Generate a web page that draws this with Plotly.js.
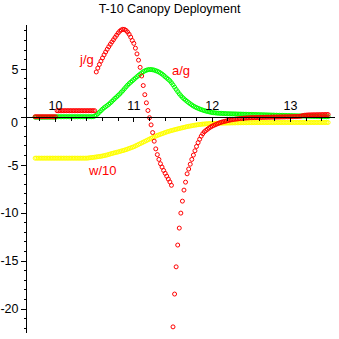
<!DOCTYPE html>
<html>
<head>
<meta charset="utf-8">
<script src="https://cdn.plot.ly/plotly-3.0.1.min.js"></script>
<style>html,body{margin:0;padding:0;background:#fff;}#chart{width:339px;height:339px;}</style>
</head>
<body>
<div id="chart"></div>
<script>
// time samples (s)
var t = [
9.74,9.76,9.78,9.8,9.82,9.84,9.86,9.88,9.9,9.92,9.94,9.96,9.98,
10,10.02,10.04,10.06,10.08,10.1,10.12,10.14,10.16,10.18,10.2,10.22,10.24,10.26,10.28,10.3,10.32,10.34,10.36,10.38,10.4,10.42,10.44,10.46,10.48,10.5,10.52,10.54,10.56,10.58,10.6,10.62,10.64,10.66,10.68,10.7,10.72,10.74,10.76,10.78,10.8,10.82,10.84,10.86,10.88,10.9,10.92,10.94,10.96,10.98,
11,11.02,11.04,11.06,11.08,11.1,11.12,11.14,11.16,11.18,11.2,11.22,11.24,11.26,11.28,11.3,11.32,11.34,11.36,11.38,11.4,11.42,11.44,11.46,11.48,11.5,11.52,11.54,11.56,11.58,11.6,11.62,11.64,11.66,11.68,11.7,11.72,11.74,11.76,11.78,11.8,11.82,11.84,11.86,11.88,11.9,11.92,11.94,11.96,11.98,
12,12.02,12.04,12.06,12.08,12.1,12.12,12.14,12.16,12.18,12.2,12.22,12.24,12.26,12.28,12.3,12.32,12.34,12.36,12.38,12.4,12.42,12.44,12.46,12.48,12.5,12.52,12.54,12.56,12.58,12.6,12.62,12.64,12.66,12.68,12.7,12.72,12.74,12.76,12.78,12.8,12.82,12.84,12.86,12.88,12.9,12.92,12.94,12.96,12.98,
13,13.02,13.04,13.06,13.08,13.1,13.12,13.14,13.16,13.18,13.2,13.22,13.24,13.26,13.28,13.3,13.32,13.34,13.36,13.38,13.4,13.42,13.44,13.46,13.48
];

// jerk / g
var jg = [
0.05,0.05,0.05,0.05,0.05,0.05,0.05,0.05,0.05,0.05,0.05,0.05,0.05,
0.05,
0.68,0.68,0.68,0.68,0.68,0.68,0.68,0.68,0.68,0.68,
0.68,0.68,0.68,0.68,0.68,0.68,0.68,0.68,0.68,0.68,
0.68,0.68,0.68,0.68,0.68,
4.72,5.12,5.5,5.85,6.18,6.5,6.8,7.08,7.35,7.6,7.85,8.08,8.32,8.55,8.78,8.97,9.1,9.17,9.15,9.05,8.88,8.65,8.35,8.0,
7.7,7.2,6.6,5.95,5.2,4.3,3.3,2.35,1.5,0.7,
-0.05,-0.8,-1.6,-2.5,-3.3,-3.9,-4.4,-4.85,-5.2,-5.55,
-5.85,-6.15,-6.45,-6.75,-7.1,-21.86,-18.44,-15.6,-13.33,-11.56,
-10.0,-8.75,-7.6,-6.77,-5.9,-5.4,-4.9,-4.4,-3.95,-3.5,
-3.05,-2.65,-2.3,-1.98,-1.72,-1.52,-1.38,-1.25,-1.13,-1.02,
-0.93,-0.85,-0.78,-0.71,-0.64,-0.57,-0.52,-0.47,-0.43,-0.39,
-0.35,-0.31,-0.28,-0.25,-0.22,-0.2,-0.18,-0.16,-0.14,-0.12,
-0.1,-0.09,-0.08,-0.07,-0.06,-0.05,-0.05,-0.04,-0.04,-0.03,
-0.03,-0.02,-0.02,-0.01,-0.01,0,0,0,0.01,0.01,
0.01,0.02,0.02,0.02,0.03,0.03,0.03,0.04,0.04,0.04,
0.05,0.05,0.06,0.06,0.07,0.08,0.1,0.13,0.17,0.2,0.22,0.23,0.24,0.24,0.25,0.25,0.25,0.26,0.26,0.26,0.27,0.27,0.27,0.28,0.28
];

// acceleration / g
var ag = [
0,0,0,0,0,0,0,0,0,0,0,0,0,
0,
0.05,0.05,0.05,0.05,0.05,0.05,0.05,0.05,0.05,0.05,0.05,0.05,
0.05,0.05,0.05,0.05,0.05,0.05,0.05,0.05,0.05,0.05,0.05,0.05,
0.12,
0.2,0.36,0.52,0.68,0.84,0.98,1.1,1.22,1.35,1.49,1.65,1.81,1.97,2.12,2.27,2.43,2.6,2.78,2.97,3.16,3.34,3.5,3.65,3.79,
3.94,4.08,4.22,4.36,4.49,4.62,4.74,4.83,4.9,4.95,
4.97,4.97,4.95,4.91,4.85,4.79,4.71,4.61,4.5,4.37,
4.22,4.08,3.95,3.8,3.6,3.38,3.14,2.9,2.67,2.45,
2.25,2.07,1.92,1.78,1.65,1.52,1.4,1.28,1.17,1.08,
1.0,0.93,0.86,0.8,0.74,0.69,0.64,0.6,0.56,0.52,
0.49,0.47,0.45,0.43,0.42,0.41,0.4,0.39,0.38,0.37,
0.36,0.36,0.35,0.35,0.34,0.34,0.33,0.33,0.32,0.32,
0.31,0.31,0.3,0.3,0.29,0.29,0.28,0.28,0.27,0.27,
0.26,0.26,0.25,0.25,0.24,0.24,0.23,0.23,0.22,0.22,
0.21,0.21,0.2,0.2,0.19,0.19,0.18,0.18,0.17,0.17,
0.16,0.16,0.15,0.15,0.14,0.14,0.13,0.13,0.12,0.12,0.11,0.11,0.1,0.1,0.09,0.09,0.08,0.08,0.07,0.07,0.06,0.06,0.05,0.05,0.05
];

// velocity / 10
var w10 = [
-4.27,-4.27,-4.27,-4.27,-4.27,-4.27,-4.27,-4.27,-4.27,-4.27,-4.27,-4.27,-4.27,
-4.27,-4.27,-4.27,-4.27,-4.27,-4.27,-4.27,-4.27,-4.27,-4.27,-4.27,
-4.27,-4.27,-4.27,-4.27,-4.27,-4.27,-4.27,-4.27,-4.27,-4.27,
-4.25,-4.23,-4.21,-4.19,-4.17,
-4.14,-4.12,-4.1,-4.07,-4.04,-4.01,-3.97,-3.93,-3.88,-3.83,-3.78,-3.74,-3.7,-3.66,-3.62,-3.57,-3.52,-3.48,-3.43,-3.38,-3.32,-3.26,-3.2,-3.14,
-3.08,-3.0,-2.92,-2.84,-2.76,-2.68,-2.6,-2.52,-2.44,-2.36,
-2.28,-2.2,-2.12,-2.05,-1.97,-1.9,-1.84,-1.78,-1.72,-1.66,
-1.6,-1.54,-1.49,-1.44,-1.39,-1.35,-1.3,-1.26,-1.22,-1.18,
-1.14,-1.1,-1.06,-1.02,-0.98,-0.95,-0.92,-0.89,-0.86,-0.83,
-0.81,-0.78,-0.76,-0.74,-0.72,-0.71,-0.69,-0.68,-0.67,-0.66,
-0.65,-0.645,-0.64,-0.635,-0.63,-0.625,-0.62,-0.615,-0.61,-0.605,
-0.6,-0.6,-0.595,-0.59,-0.59,-0.585,-0.58,-0.58,-0.575,-0.575,
-0.57,-0.57,-0.57,-0.565,-0.565,-0.565,-0.56,-0.56,-0.56,-0.56,
-0.56,-0.555,-0.555,-0.555,-0.555,-0.555,-0.555,-0.555,-0.555,-0.555,
-0.555,-0.55,-0.55,-0.55,-0.55,-0.55,-0.55,-0.55,-0.55,-0.55,
-0.55,-0.55,-0.55,-0.55,-0.55,-0.55,-0.55,-0.55,-0.55,-0.55,-0.55,-0.55,-0.55,-0.55,-0.55,-0.55,-0.55,-0.55,-0.55,-0.55,-0.55,-0.55,-0.55,-0.55,-0.55
];

var xTickVals = [10, 11, 12, 13];
var xTickText = ["10", "11", "12", "13"];
var yTickVals = [-20, -15, -10, -5, 0, 5];
var yTickText = ["-20", "-15", "-10", "-5", "", "5"];

var FONT = "Liberation Sans, Arial, sans-serif";
function mk(col) {
  return {symbol: "circle-open", size: 4, color: col, line: {width: 1}};
}
var traces = [
  {x: t, y: ag, mode: "markers", type: "scatter", marker: mk("#00ff00"), name: "a/g"},
  {x: t, y: w10, mode: "markers", type: "scatter", marker: mk("#ffff00"), name: "w/10"},
  {x: t, y: jg, mode: "markers", type: "scatter", marker: mk("#ff0000"), name: "j/g"}
];

var yMin = -22.5, yMax = 9.615;
var layout = {
  width: 339, height: 339,
  margin: {l: 27, r: 4, t: 25, b: 6, pad: 0},
  paper_bgcolor: "#fff", plot_bgcolor: "#fff",
  showlegend: false,
  font: {family: FONT, size: 12.5, color: "#000"},
  title: {text: "T-10 Canopy Deployment", font: {family: FONT, size: 12.5, color: "#000"},
          x: 0.5, xref: "container", xanchor: "center", y: 0.988, yref: "container", yanchor: "top"},
  xaxis: {
    range: [9.636, 13.568], anchor: "free", position: (0 - yMin) / (yMax - yMin), side: "top",
    showline: true, linecolor: "#000", linewidth: 1, zeroline: false, showgrid: false,
    ticks: "inside", ticklen: 4, tickcolor: "#000", tickwidth: 1,
    tickvals: xTickVals, ticktext: xTickText, tickfont: {family: FONT, size: 12.5, color: "#000"},
    ticklabelstandoff: 2,
    minor: {tick0: 10, dtick: 0.2, ticks: "inside", ticklen: 2.5, tickcolor: "#000", showgrid: false}
  },
  yaxis: {
    range: [yMin, yMax], showline: true, linecolor: "#000", linewidth: 1, zeroline: false, showgrid: false,
    ticks: "outside", ticklen: 5, tickcolor: "#000", tickwidth: 1,
    tickvals: yTickVals, ticktext: yTickText, tickfont: {family: FONT, size: 12.5, color: "#000"},
    minor: {tick0: 0, dtick: 1, ticks: "outside", ticklen: 2.5, tickcolor: "#000", showgrid: false}
  },
  annotations: [
    {text: "j/g", x: 10.40, y: 6.07, xref: "x", yref: "y", showarrow: false, font: {family: FONT, size: 13, color: "#ff0000"}},
    {text: "a/g", x: 11.60, y: 4.88, xref: "x", yref: "y", showarrow: false, font: {family: FONT, size: 13, color: "#ff0000"}},
    {text: "w/10", x: 10.594, y: -5.54, xref: "x", yref: "y", showarrow: false, font: {family: FONT, size: 13, color: "#ff0000"}},
    {text: "0", x: -0.0227, y: -0.6, xref: "paper", yref: "y", xanchor: "right", showarrow: false, font: {family: FONT, size: 12.5, color: "#000"}}
  ]
};

Plotly.newPlot("chart", traces, layout, {staticPlot: true, displayModeBar: false}).then(function () {
  if (jg.length !== t.length || ag.length !== t.length || w10.length !== t.length) {
    throw new Error("length mismatch t=" + t.length + " jg=" + jg.length + " ag=" + ag.length + " w10=" + w10.length);
  }
});
</script>
</body>
</html>
